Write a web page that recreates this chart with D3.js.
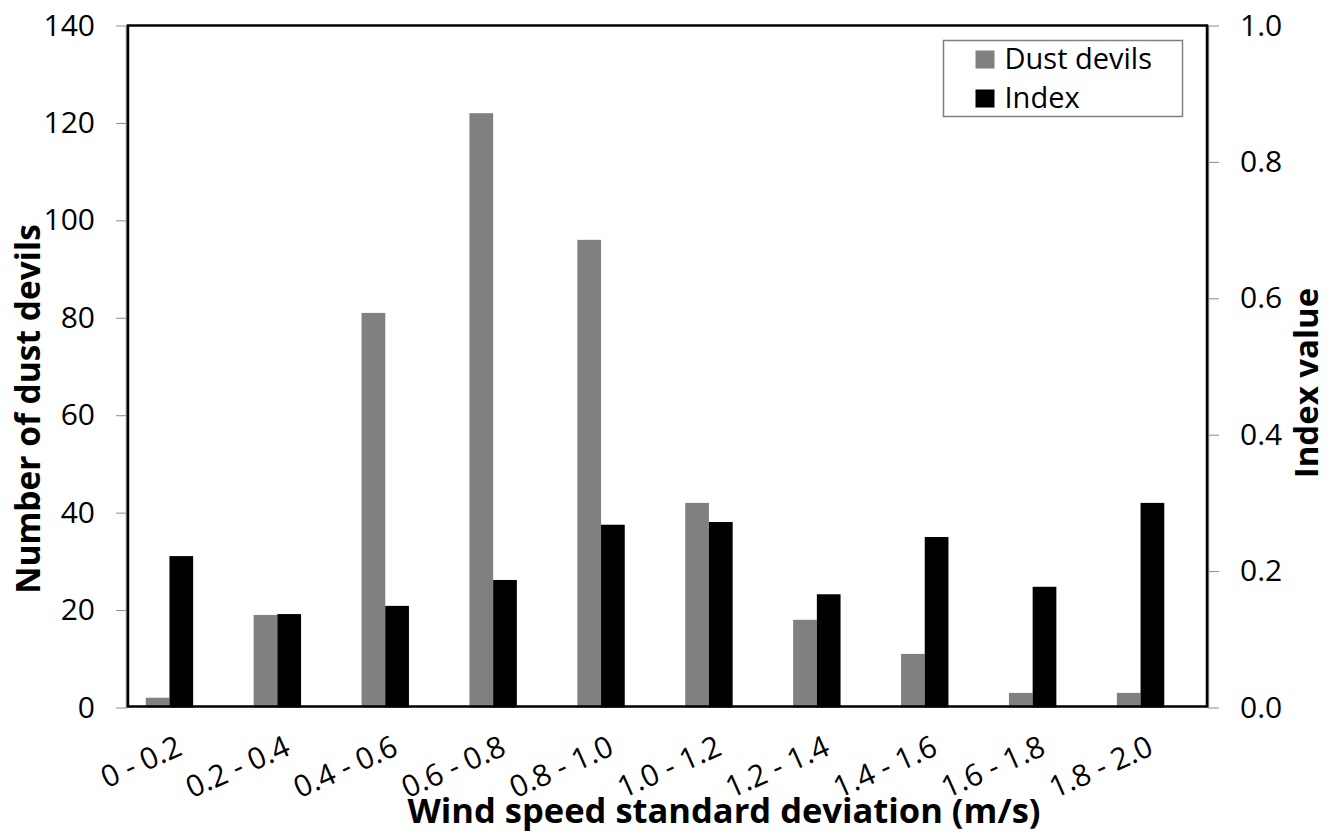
<!DOCTYPE html>
<html>
<head>
<meta charset="utf-8">
<script src="https://cdn.jsdelivr.net/npm/d3@7"></script>
<style>
  body { margin: 0; background: #fff; }
  text { font-family: "Open Sans", sans-serif; fill: #000; }
  .tick line { stroke: #8c8c8c; }
  .domain { stroke: none; }
</style>
</head>
<body>
<div id="chart"></div>
<script>
const categories = ['0 - 0.2', '0.2 - 0.4', '0.4 - 0.6', '0.6 - 0.8', '0.8 - 1.0',
  '1.0 - 1.2', '1.2 - 1.4', '1.4 - 1.6', '1.6 - 1.8', '1.8 - 2.0'];
const dustDevils = [2, 19, 81, 122, 96, 42, 18, 11, 3, 3];
const indexValues = [0.222, 0.137, 0.149, 0.187, 0.268, 0.272, 0.166, 0.25, 0.177, 0.30];
const leftTicks = [0, 20, 40, 60, 80, 100, 120, 140];
const rightTicks = [0, 0.2, 0.4, 0.6, 0.8, 1.0];
const legends = ['Dust devils', 'Index'];

const W = 1333, H = 835;
const plot = { left: 128, right: 1207, top: 25.5, bottom: 707.5 };
const barW = 23.7;
const groupShift = -12.5; // bars sit a bit left of the category centre, as in the original

const svg = d3.select('#chart').append('svg')
  .attr('width', W)
  .attr('height', H);

const x = d3.scaleBand().domain(categories).range([plot.left, plot.right]);
const yL = d3.scaleLinear().domain([0, 140]).range([plot.bottom, plot.top]);
const yR = d3.scaleLinear().domain([0, 1]).range([plot.bottom, plot.top]);

/* axes */
const leftAxis = d3.axisLeft(yL)
  .tickValues(leftTicks)
  .tickSizeInner(11)
  .tickSizeOuter(0)
  .tickPadding(21);
svg.append('g')
  .attr('class', 'y axis left')
  .attr('transform', `translate(${plot.left - 1}, 0)`)
  .call(leftAxis)
  .selectAll('text')
  .style('font-size', '30px');

const rightAxis = d3.axisRight(yR)
  .tickValues(rightTicks)
  .tickFormat(d3.format('.1f'))
  .tickSizeInner(11)
  .tickSizeOuter(0)
  .tickPadding(21);
svg.append('g')
  .attr('class', 'y axis right')
  .attr('transform', `translate(${plot.right + 1}, 0)`)
  .call(rightAxis)
  .selectAll('text')
  .style('font-size', '30px');

// grey axis lines just outside the frame
svg.append('line')
  .attr('x1', plot.left - 1.5).attr('x2', plot.left - 1.5)
  .attr('y1', plot.top).attr('y2', plot.bottom)
  .style('stroke', '#8c8c8c').style('stroke-width', 1.5);
svg.append('line')
  .attr('x1', plot.right + 1.5).attr('x2', plot.right + 1.5)
  .attr('y1', plot.top).attr('y2', plot.bottom)
  .style('stroke', '#8c8c8c').style('stroke-width', 1.5);

/* bars */
const groups = svg.append('g')
  .attr('class', 'bars')
  .selectAll('.group')
  .data(categories)
  .enter().append('g')
  .attr('class', 'group');

groups.append('rect')
  .attr('x', d => x(d) + x.bandwidth() / 2 + groupShift - barW)
  .attr('y', (d, i) => yL(dustDevils[i]))
  .attr('width', barW)
  .attr('height', (d, i) => plot.bottom - yL(dustDevils[i]))
  .style('fill', '#808080');

groups.append('rect')
  .attr('x', d => x(d) + x.bandwidth() / 2 + groupShift)
  .attr('y', (d, i) => yR(indexValues[i]))
  .attr('width', barW)
  .attr('height', (d, i) => plot.bottom - yR(indexValues[i]))
  .style('fill', '#000');

/* frame */
svg.append('rect')
  .attr('x', plot.left)
  .attr('y', plot.top)
  .attr('width', plot.right - plot.left)
  .attr('height', plot.bottom - plot.top - 1)
  .style('fill', 'none')
  .style('stroke', '#000')
  .style('stroke-width', 2.5);

/* category labels */
svg.append('g')
  .attr('class', 'x labels')
  .selectAll('text')
  .data(categories)
  .enter().append('text')
  .attr('transform', d => `translate(${x(d) + x.bandwidth() / 2 + 2}, 754) rotate(-24)`)
  .style('text-anchor', 'end')
  .style('font-size', '30px')
  .text(d => d);

/* axis titles */
svg.append('text')
  .attr('x', 724)
  .attr('y', 823)
  .style('text-anchor', 'middle')
  .style('font-size', '34.5px')
  .style('font-weight', 'bold')
  .text('Wind speed standard deviation (m/s)');

svg.append('text')
  .attr('transform', 'translate(40, 409) rotate(-90)')
  .style('text-anchor', 'middle')
  .style('font-size', '33.5px')
  .style('font-weight', 'bold')
  .text('Number of dust devils');

svg.append('text')
  .attr('transform', 'translate(1318, 383) rotate(-90)')
  .style('text-anchor', 'middle')
  .style('font-size', '33px')
  .style('font-weight', 'bold')
  .text('Index value');

/* legend */
const legendBox = { x: 943.5, y: 40.5, w: 239, h: 76 };
svg.append('rect')
  .attr('x', legendBox.x)
  .attr('y', legendBox.y)
  .attr('width', legendBox.w)
  .attr('height', legendBox.h)
  .style('fill', '#fff')
  .style('stroke', '#808080')
  .style('stroke-width', 1.5);

const legend = svg.append('g')
  .attr('class', 'legends')
  .selectAll('.legend')
  .data(legends)
  .enter().append('g')
  .attr('class', 'legend')
  .attr('transform', (d, i) => `translate(${legendBox.x + 32}, ${legendBox.y + 10 + i * 39})`);

legend.append('rect')
  .attr('width', 19)
  .attr('height', 18)
  .style('fill', (d, i) => i === 0 ? '#808080' : '#000');
legend.append('text')
  .attr('x', 29)
  .attr('y', 18)
  .style('font-size', '29px')
  .text(d => d);
</script>
</body>
</html>
